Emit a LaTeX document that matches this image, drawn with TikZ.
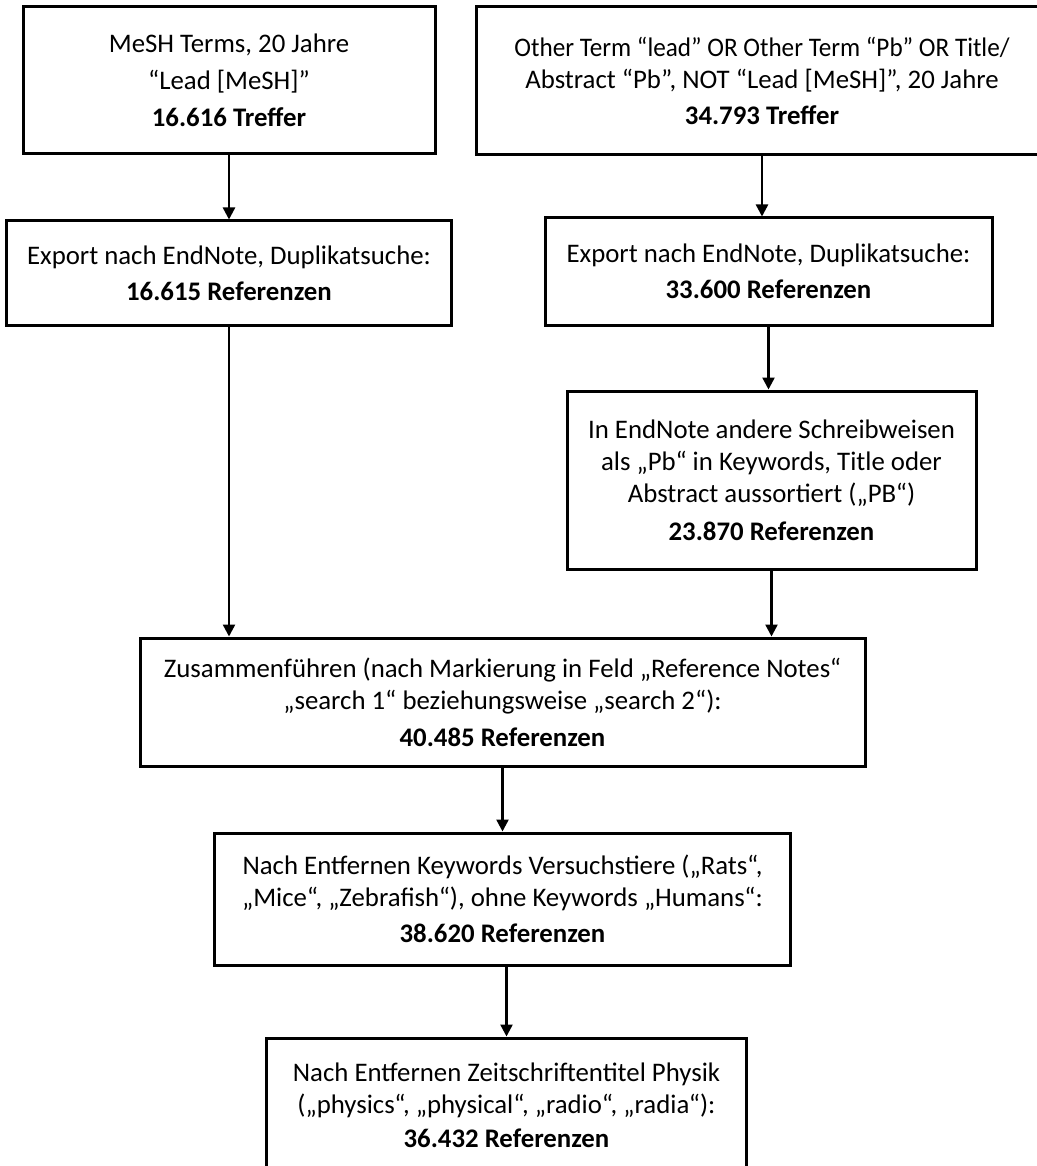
\documentclass[tikz,border=0pt]{standalone}
\usepackage{fontspec}
\usepackage{graphicx}
\setmainfont{Carlito}
\usetikzlibrary{positioning,arrows.meta}

\begin{document}
\begin{tikzpicture}[x=0.5pt,y=-0.5pt,
  box/.style={draw, line width=1.5pt, align=center, inner sep=0pt, font=\fontsize{13.4}{16}\selectfont},
  arr/.style={-{Triangle[length=6pt,width=6pt]}, line width=1.2pt}]
  \useasboundingbox (0,0) rectangle (1037,1166);
  \node[box, minimum width=206pt, minimum height=73.5pt] (t1) at (229,80.5)
    {MeSH Terms, 20 Jahre\\[2.5pt] “Lead [MeSH]”\\[2.5pt] \textbf{16.616 Treffer}};
  \node[box, minimum width=222.5pt, minimum height=52pt, below=32pt of t1] (e1)
    {Export nach EndNote, Duplikatsuche:\\[2pt] \textbf{16.615 Referenzen}};
  \node[box, minimum width=286pt, minimum height=74pt] (t2) at (762,81)
    {\scalebox{0.94}[1]{Other Term “lead” OR Other Term “Pb” OR Title/}\\ Abstract “Pb”, NOT “Lead [MeSH]”, 20 Jahre\\[2pt] \textbf{34.793 Treffer}};
  \node[box, minimum width=223.5pt, minimum height=53.5pt, below=30pt of t2, xshift=3.25pt] (e2)
    {Export nach EndNote, Duplikatsuche:\\[2pt] \textbf{33.600 Referenzen}};
  \node[box, minimum width=204.5pt, minimum height=89pt, below=31.5pt of e2, xshift=1.5pt] (pb)
    {In EndNote andere Schreibweisen\\ als „Pb“ in Keywords, Title oder\\ Abstract aussortiert („PB“)\\[3pt] \textbf{23.870 Referenzen}};
  \node[box, minimum width=362.5pt, minimum height=64pt] (m1) at (502.5,702)
    {Zusammenführen (nach Markierung in Feld „Reference Notes“\\ „search 1“ beziehungsweise „search 2“):\\[2.5pt] \textbf{40.485 Referenzen}};
  \node[box, minimum width=288pt, minimum height=66pt, below=32pt of m1] (m2)
    {Nach Entfernen Keywords Versuchstiere („Rats“,\\ „Mice“, „Zebrafish“), ohne Keywords „Humans“:\\[2pt] \textbf{38.620 Referenzen}};
  \node[box, minimum width=240pt, minimum height=67pt, below=35pt of m2, xshift=2pt] (m3)
    {Nach Entfernen Zeitschriftentitel Physik\\ („physics“, „physical“, „radio“, „radia“):\\[1pt] \textbf{36.432 Referenzen}};
  \draw[arr] (t1) -- (e1);
  \draw[arr] (t2.south) -- (t2.south |- e2.north);
  \draw[arr] (e2.south) -- (e2.south |- pb.north);
  \draw[arr] (e1.south) -- (e1.south |- m1.north);
  \draw[arr] (pb.south) -- (pb.south |- m1.north);
  \draw[arr] (m1) -- (m2);
  \draw[arr] (m3.north |- m2.south) -- (m3.north);
\end{tikzpicture}
\end{document}
